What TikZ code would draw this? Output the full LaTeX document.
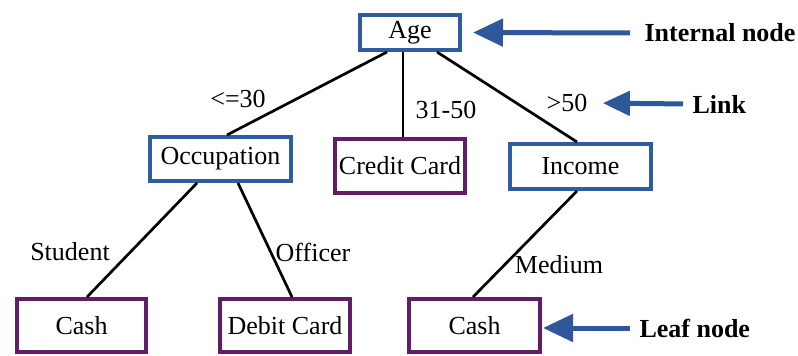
\documentclass[tikz,border=0pt]{standalone}
\usepackage{fontspec}
\setmainfont{Liberation Serif}
\usetikzlibrary{arrows.meta,calc}
\definecolor{nodeblue}{RGB}{46,92,158}
\definecolor{leafpurple}{RGB}{98,28,104}
\definecolor{arrowblue}{RGB}{46,88,155}
\begin{document}
\begin{tikzpicture}[x=1pt,y=-1pt,
  font=\fontsize{26}{30}\selectfont,
  inner/.style={draw=nodeblue,line width=4pt,rectangle,inner sep=0pt},
  leaf/.style={draw=leafpurple,line width=4pt,rectangle,inner sep=0pt},
  link/.style={line width=2.7pt,black},
  callout/.style={draw=arrowblue,line width=5pt,-{Triangle[length=30pt,width=27pt]}},
  note/.style={font=\fontsize{26}{30}\selectfont\bfseries,anchor=west}]
\useasboundingbox (0,0) rectangle (798,356);

% decision nodes
\node[inner,minimum width=100pt,minimum height=35pt] (age) at (410,32.5) {Age};
\node[inner,minimum width=141pt,minimum height=44pt] (occ) at (220.5,159) {Occupation};
\node[inner,minimum width=141pt,minimum height=45pt] (inc) at (580.5,166.5) {Income};

% leaf nodes
\node[leaf,minimum width=130pt,minimum height=54pt] (cc) at (400,166) {Credit Card};
\node[leaf,minimum width=129pt,minimum height=53pt] (cashA) at (81.5,325.5) {Cash};
\node[leaf,minimum width=130pt,minimum height=53pt] (debit) at (285,325.5) {Debit Card};
\node[leaf,minimum width=131pt,minimum height=53pt] (cashB) at (474.5,325.5) {Cash};

% branches
\draw[link] ($(age.south west)+(29,0)$) -- ($(occ.north west)+(79,0)$);
\draw[link] ($(age.south west)+(45,0)$) -- ($(cc.north west)+(70,0)$);
\draw[link] ($(age.south west)+(79,0)$) -- ($(inc.north west)+(69,0)$);
\draw[link] ($(occ.south west)+(49,0)$) -- ($(cashA.north west)+(72,0)$);
\draw[link] ($(occ.south west)+(90,0)$) -- ($(debit.north west)+(74,0)$);
\draw[link] ($(inc.south west)+(69,0)$) -- ($(cashB.north west)+(66,0)$);

% branch labels
\node (le30) at (238,99) {<=30};
\node (r3150) at (446,110) {31-50};
\node (gt50) at (567,103) {>50};
\node (student) at (70,252) {Student};
\node (officer) at (313,252) {Officer};
\node (medium) at (559,265) {Medium};

% annotations
\node[note] (intl) at (641,33) {Internal node};
\node[note] (lnk) at (689,104) {Link};
\node[note] (lf) at (636,328) {Leaf node};
\draw[callout,shorten <=11pt,shorten >=11pt] (intl.west) -- (age.east);
\draw[callout,shorten <=6pt,shorten >=12pt,-{Triangle[length=27pt,width=24pt]}] (lnk.west) -- (gt50.east);
\draw[callout,shorten <=6pt,shorten >=1pt] (lf.west) -- (cashB.east |- lf.west);
\end{tikzpicture}
\end{document}
